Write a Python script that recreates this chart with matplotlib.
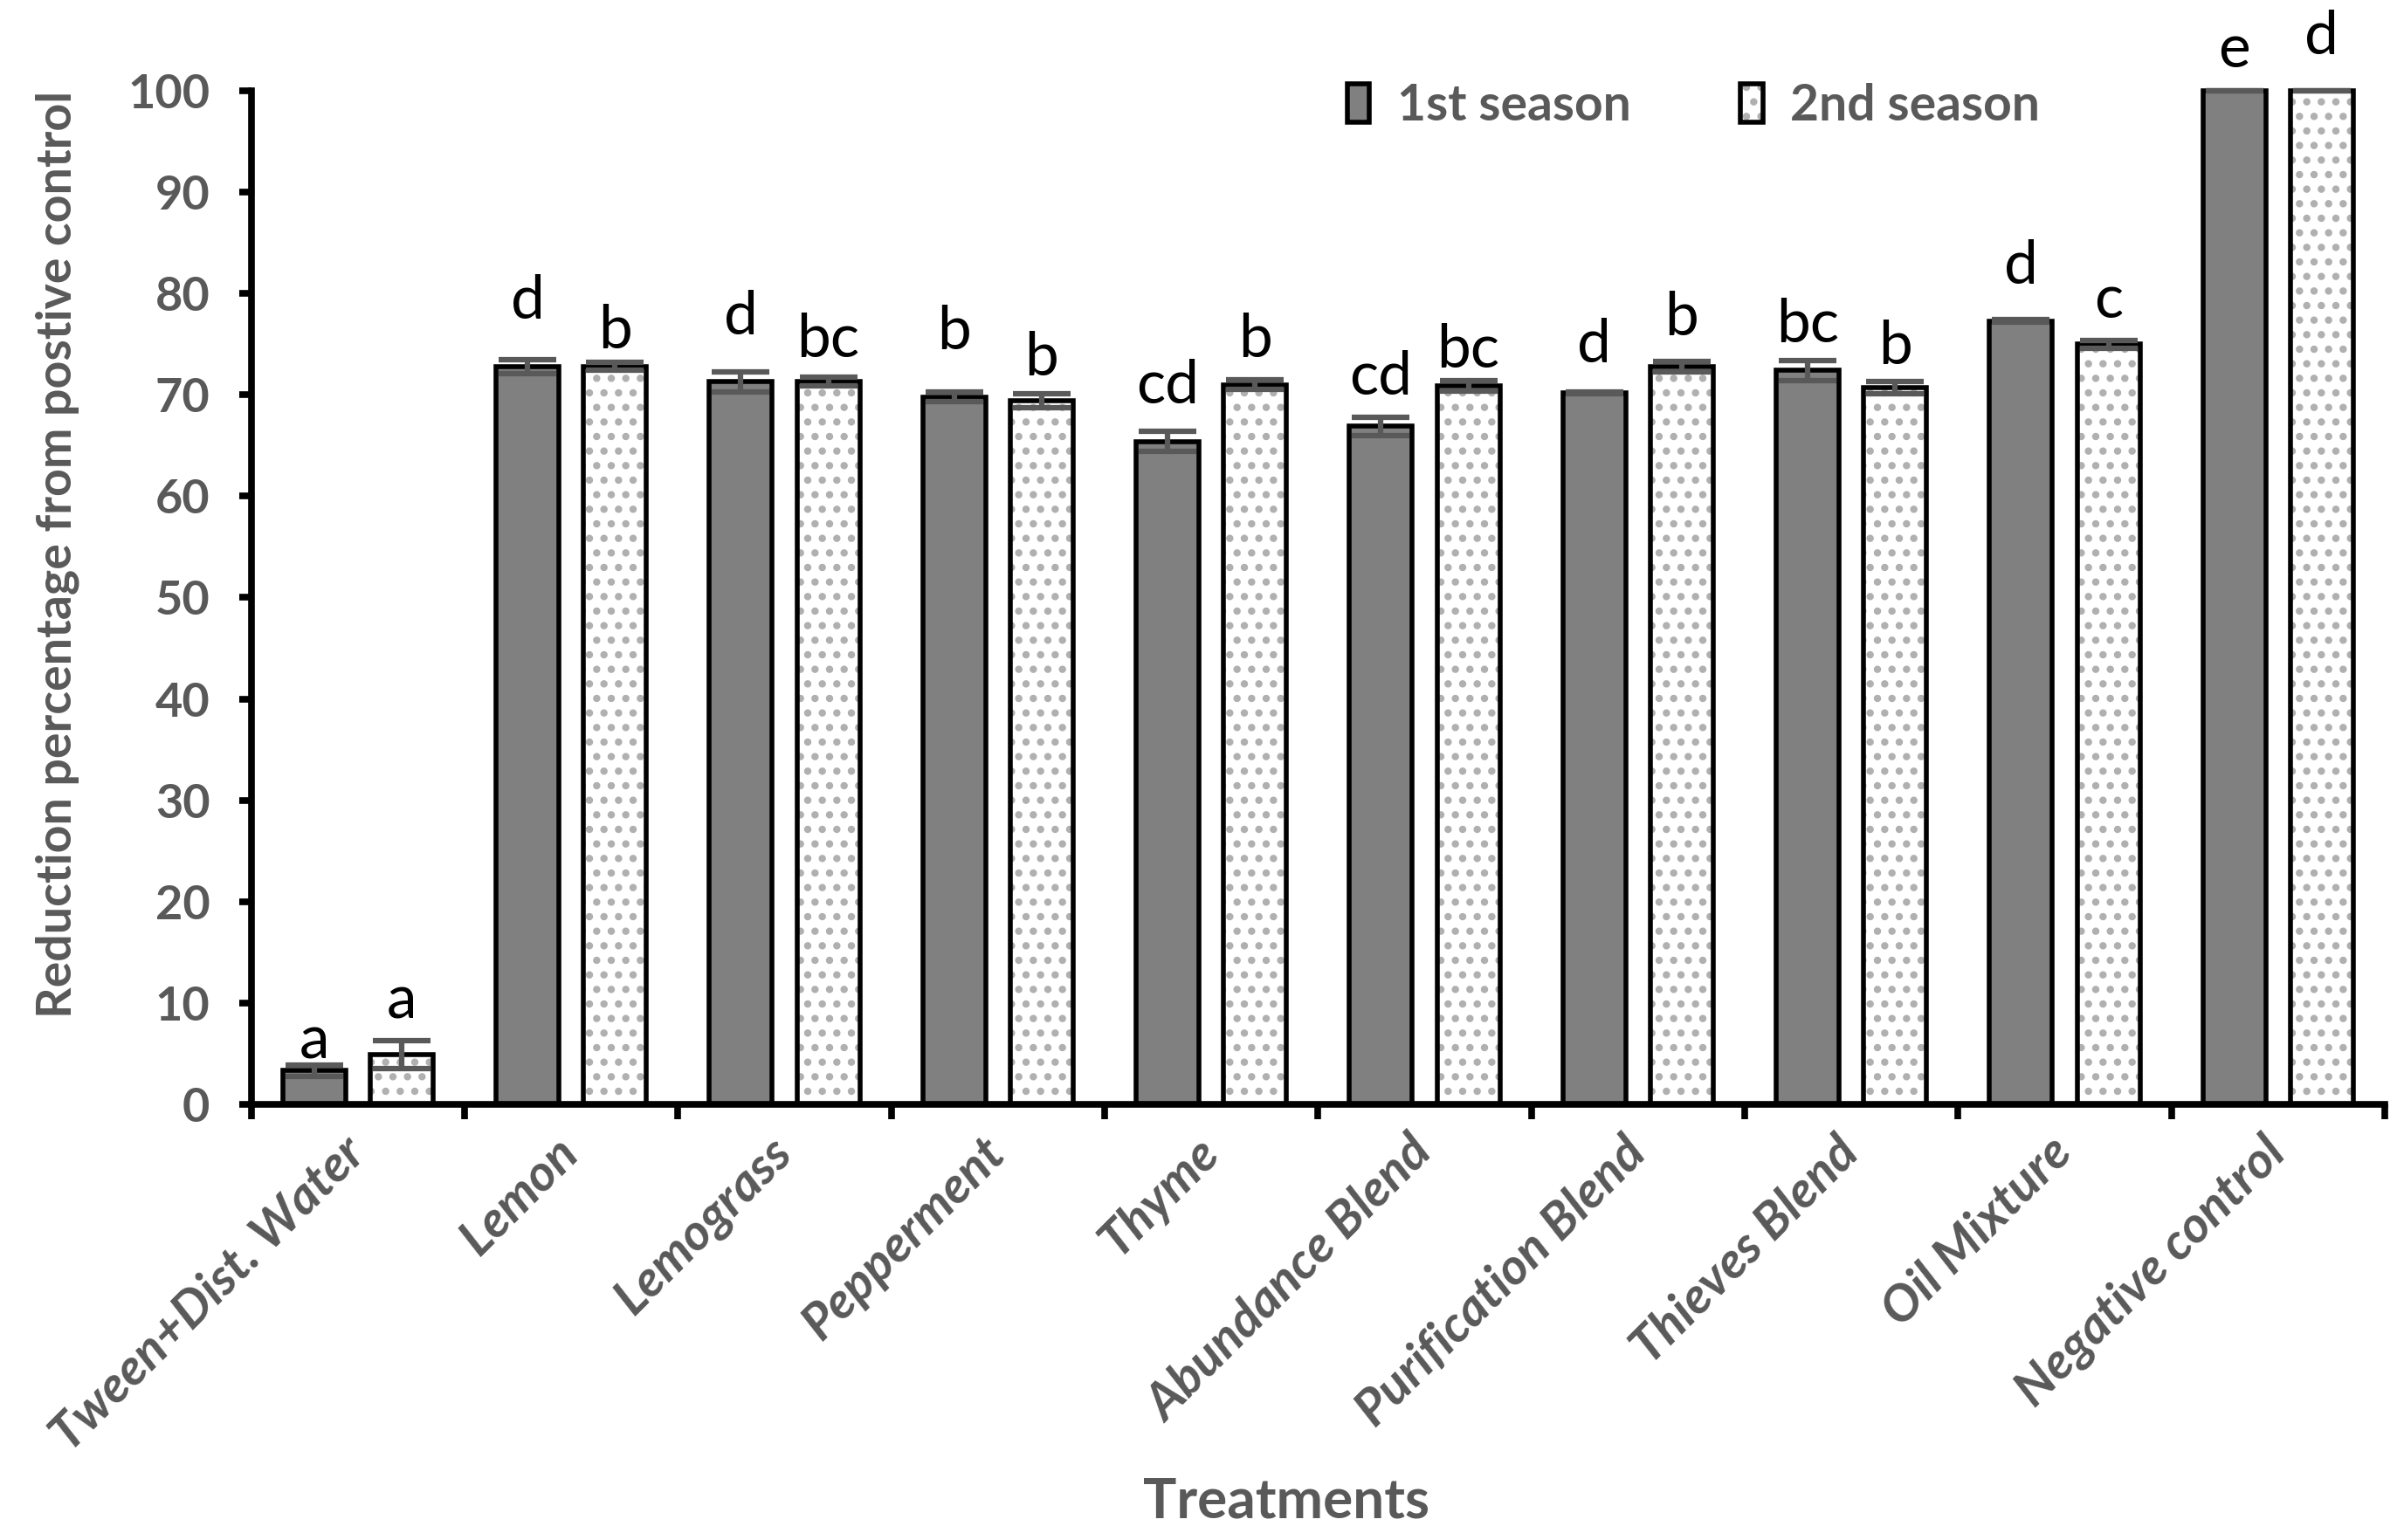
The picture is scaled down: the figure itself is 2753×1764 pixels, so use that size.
import matplotlib
matplotlib.use('Agg')
import matplotlib.pyplot as plt
from matplotlib.patches import Patch
from matplotlib.legend_handler import HandlerTuple
import numpy as np

categories = ["Tween+Dist. Water", "Lemon", "Lemograss", "Pepperment", "Thyme",
              "Abundance Blend", "Purification Blend", "Thieves Blend",
              "Oil Mixture", "Negative control"]
season1 = [3.3, 72.8, 71.3, 69.8, 65.4, 66.9, 70.2, 72.4, 77.3, 100.0]
season1_err = [0.6, 0.7, 1.0, 0.5, 1.0, 0.9, 0.1, 1.0, 0.1, 0.0]
season2 = [4.9, 72.8, 71.3, 69.4, 71.0, 70.9, 72.8, 70.7, 75.0, 100.0]
season2_err = [1.4, 0.4, 0.45, 0.7, 0.5, 0.5, 0.5, 0.6, 0.4, 0.0]
letters1 = ["a", "d", "d", "b", "cd", "cd", "d", "bc", "d", "e"]
letters2 = ["a", "b", "bc", "b", "b", "bc", "b", "b", "c", "d"]
letter1_y = [4.5, 77.5, 76.0, 74.5, 69.2, 70.0, 73.2, 75.2, 81.0, 102.3]
letter2_y = [8.5, 74.6, 73.7, 71.9, 73.7, 72.7, 75.9, 73.0, 77.6, 103.6]
yticks = list(range(0, 101, 10))
series_names = ["1st season", "2nd season"]

GRAY_TXT = '#595959'
plt.rcParams['font.family'] = ['Lato', 'DejaVu Sans']
plt.rcParams['hatch.linewidth'] = 3.6

fig = plt.figure(figsize=(27.53, 17.64), dpi=100)
ax = fig.add_axes([0.1045, 0.283, 0.8875, 0.658])

x = np.arange(len(categories))
w = 0.295
off = 0.205

ax.bar(x - off, season1, w, color='#808080', edgecolor='black',
       linewidth=4, zorder=2, clip_on=False)
ax.bar(x + off, season2, w, color='white', edgecolor='#b0b0b0',
       hatch='.', linewidth=0, zorder=2, clip_on=False)
ax.bar(x + off, season2, w, fill=False, edgecolor='black',
       linewidth=4, zorder=3, clip_on=False)

ax.errorbar(x - off, season1, yerr=season1_err, fmt='none', ecolor='#595959',
            elinewidth=4.5, capsize=24, capthick=4.5, zorder=5, clip_on=False)
ax.errorbar(x + off, season2, yerr=season2_err, fmt='none', ecolor='#595959',
            elinewidth=4.5, capsize=24, capthick=4.5, zorder=5, clip_on=False)

for i in range(len(categories)):
    ax.text(x[i] - off, letter1_y[i], letters1[i], ha='center', va='baseline',
            fontsize=50, color='black')
    ax.text(x[i] + off, letter2_y[i], letters2[i], ha='center', va='baseline',
            fontsize=50, color='black')

ax.set_xlim(-0.5, len(categories) - 0.5)
ax.set_ylim(0, 100)
ax.set_yticks(yticks)
ax.set_yticklabels([str(v) for v in yticks], fontsize=39, fontweight='bold',
                   color=GRAY_TXT)
ax.set_xticks(x)
ax.set_xticklabels(categories, rotation=45, ha='right', va='center',
                   rotation_mode='anchor', fontsize=42, fontweight='bold',
                   fontstyle='italic', color=GRAY_TXT)
ax.set_xticks(np.arange(-0.5, len(categories), 1.0), minor=True)
ax.tick_params(axis='x', which='major', length=0, pad=34)
ax.tick_params(axis='x', which='minor', length=12, width=5.5, direction='out')
ax.tick_params(axis='y', which='major', length=10, width=5.5, direction='out', pad=24)

for s in ['top', 'right']:
    ax.spines[s].set_visible(False)
for s in ['left', 'bottom']:
    ax.spines[s].set_linewidth(5.5)
    ax.spines[s].set_color('black')

h1 = (Patch(facecolor='#808080', edgecolor='black', linewidth=4),)
h2 = (Patch(facecolor='white', edgecolor='#b0b0b0', hatch='.', linewidth=0),
      Patch(fill=False, edgecolor='black', linewidth=4))
leg = ax.legend([h1, h2], series_names,
                handler_map={tuple: HandlerTuple(ndivide=1, pad=0)},
                loc='center', bbox_to_anchor=(0.676, 0.985), ncol=2, frameon=False,
                handlelength=0.45, handleheight=0.8, handletextpad=0.55,
                columnspacing=2.2, prop={'size': 41, 'weight': 'bold'})
for t in leg.get_texts():
    t.set_color(GRAY_TXT)

fig.text(0.024, 0.64, "Reduction percentage from postive control", rotation=90,
         ha='center', va='center', fontsize=40, fontweight='bold', color=GRAY_TXT)
fig.text(0.535, 0.025, "Treatments", ha='center', va='center', fontsize=46,
         fontweight='bold', color=GRAY_TXT)

fig.savefig('out.png', dpi=100)
